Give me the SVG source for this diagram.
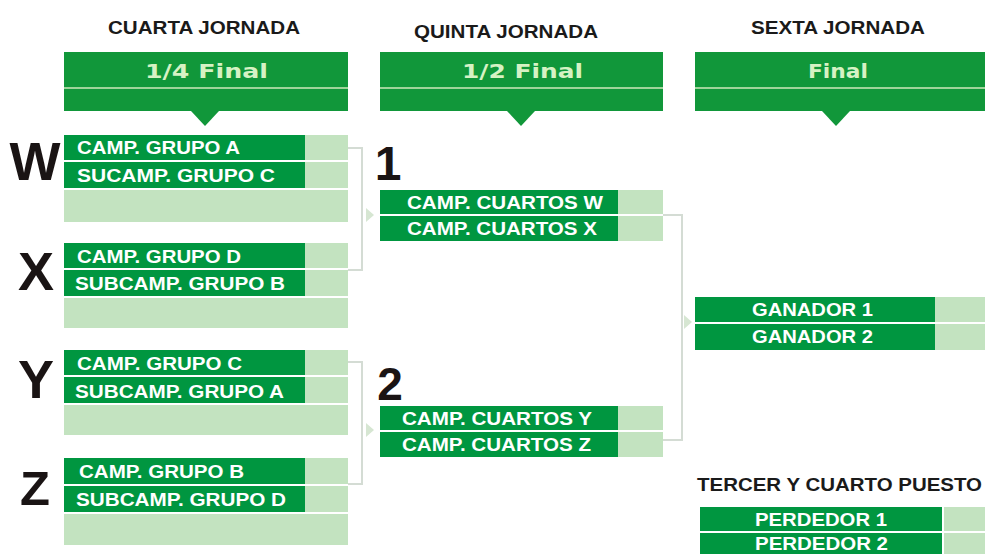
<svg xmlns="http://www.w3.org/2000/svg" width="985" height="554" viewBox="0 0 985 554">
<defs>
<style>
.hd{font-family:"Liberation Sans",Arial,sans-serif;font-weight:bold;font-size:19px;fill:#1a1a1a}
.bt{font-family:"DejaVu Sans",Verdana,sans-serif;font-weight:bold;font-size:19px;fill:#d6f2c4}
.band{fill:#11973a}
.sep{fill:#9fd49a}
.dk{fill:#009640}
.lt{fill:#c3e3c0}
.rt{font-family:"Liberation Sans",Arial,sans-serif;font-weight:bold;font-size:18px;fill:#ffffff}
.rc{font-family:"Liberation Sans",Arial,sans-serif;font-weight:bold;font-size:19px;fill:#ffffff}
.big{font-family:"Liberation Sans",Arial,sans-serif;font-weight:bold;font-size:54px;fill:#1a1414;text-anchor:middle}
.cn{fill:none;stroke:#d4dcd4;stroke-width:2}
.ar{fill:#d6e6d2}
</style>
</defs>

<g id="titles">
<text class="hd" x="108" y="34" textLength="192" lengthAdjust="spacingAndGlyphs">CUARTA JORNADA</text>
<text class="hd" x="414" y="38" textLength="184" lengthAdjust="spacingAndGlyphs">QUINTA JORNADA</text>
<text class="hd" x="751" y="34" textLength="174" lengthAdjust="spacingAndGlyphs">SEXTA JORNADA</text>
</g>

<g id="banner-cuartos">
<rect class="band" x="64" y="52" width="284" height="35"/>
<rect class="sep" x="64" y="87" width="284" height="2"/>
<rect class="band" x="64" y="89" width="284" height="22"/>
<polygon class="band" points="191,111 219,111 205,126"/>
<text class="bt" x="145" y="78" textLength="123" lengthAdjust="spacingAndGlyphs">1/4 Final</text>
</g>
<g id="banner-semis">
<rect class="band" x="380" y="52" width="283" height="35"/>
<rect class="sep" x="380" y="87" width="283" height="2"/>
<rect class="band" x="380" y="89" width="283" height="22"/>
<polygon class="band" points="507,111 535,111 521,126"/>
<text class="bt" x="462" y="78" textLength="121" lengthAdjust="spacingAndGlyphs">1/2 Final</text>
</g>
<g id="banner-final">
<rect class="band" x="695" y="52" width="290" height="35"/>
<rect class="sep" x="695" y="87" width="290" height="2"/>
<rect class="band" x="695" y="89" width="290" height="22"/>
<polygon class="band" points="822,111 850,111 836,126"/>
<text class="bt" x="808" y="78" textLength="60" lengthAdjust="spacingAndGlyphs">Final</text>
</g>

<g id="connectors">
<polyline class="cn" points="348,148 362,148 362,270 348,270"/>
<polygon class="ar" points="366,208 374,215 366,222"/>
<polyline class="cn" points="348,362 362,362 362,484 348,484"/>
<polygon class="ar" points="366,423 374,430 366,437"/>
<polyline class="cn" points="663,215 682,215 682,440 663,440"/>
<polygon class="ar" points="684,315 692,322 684,329"/>
</g>

<g id="W">
<text class="big" x="35" y="180">W</text>
<rect class="dk" x="64" y="135" width="241" height="25"/>
<rect class="dk" x="64" y="162" width="241" height="26"/>
<rect class="lt" x="305" y="135" width="43" height="25"/>
<rect class="lt" x="305" y="162" width="43" height="26"/>
<rect class="lt" x="64" y="190" width="284" height="32"/>
<text class="rt" x="77" y="154" textLength="163" lengthAdjust="spacingAndGlyphs">CAMP. GRUPO A</text>
<text class="rt" x="77" y="182" textLength="198" lengthAdjust="spacingAndGlyphs">SUCAMP. GRUPO C</text>
</g>
<g id="X">
<text class="big" x="36" y="290">X</text>
<rect class="dk" x="64" y="243" width="241" height="25"/>
<rect class="dk" x="64" y="270" width="241" height="26"/>
<rect class="lt" x="305" y="243" width="43" height="25"/>
<rect class="lt" x="305" y="270" width="43" height="26"/>
<rect class="lt" x="64" y="298" width="284" height="30"/>
<text class="rt" x="77" y="263" textLength="164" lengthAdjust="spacingAndGlyphs">CAMP. GRUPO D</text>
<text class="rt" x="75" y="290" textLength="210" lengthAdjust="spacingAndGlyphs">SUBCAMP. GRUPO B</text>
</g>
<g id="Y">
<text class="big" x="36" y="398">Y</text>
<rect class="dk" x="64" y="350" width="241" height="25"/>
<rect class="dk" x="64" y="377" width="241" height="26"/>
<rect class="lt" x="305" y="350" width="43" height="25"/>
<rect class="lt" x="305" y="377" width="43" height="26"/>
<rect class="lt" x="64" y="405" width="284" height="30"/>
<text class="rt" x="77" y="370" textLength="165" lengthAdjust="spacingAndGlyphs">CAMP. GRUPO C</text>
<text class="rt" x="75" y="398" textLength="209" lengthAdjust="spacingAndGlyphs">SUBCAMP. GRUPO A</text>
</g>
<g id="Z">
<text class="big" x="35" y="505" style="font-size:49px">Z</text>
<rect class="dk" x="64" y="458" width="241" height="26"/>
<rect class="dk" x="64" y="486" width="241" height="26"/>
<rect class="lt" x="305" y="458" width="43" height="26"/>
<rect class="lt" x="305" y="486" width="43" height="26"/>
<rect class="lt" x="64" y="514" width="284" height="31"/>
<text class="rt" x="79" y="478" textLength="165" lengthAdjust="spacingAndGlyphs">CAMP. GRUPO B</text>
<text class="rt" x="76" y="506" textLength="210" lengthAdjust="spacingAndGlyphs">SUBCAMP. GRUPO D</text>
</g>

<g id="semi1">
<text class="big" x="388" y="180" style="font-size:48px">1</text>
<rect class="dk" x="380" y="190" width="238" height="24"/>
<rect class="dk" x="380" y="216" width="238" height="25"/>
<rect class="lt" x="618" y="190" width="45" height="24"/>
<rect class="lt" x="618" y="216" width="45" height="25"/>
<text class="rc" x="407" y="209" textLength="196" lengthAdjust="spacingAndGlyphs">CAMP. CUARTOS W</text>
<text class="rc" x="407" y="235" textLength="190" lengthAdjust="spacingAndGlyphs">CAMP. CUARTOS X</text>
</g>
<g id="semi2">
<text class="big" x="390" y="400" style="font-size:46px">2</text>
<rect class="dk" x="380" y="406" width="238" height="24"/>
<rect class="dk" x="380" y="432" width="238" height="25"/>
<rect class="lt" x="618" y="406" width="45" height="24"/>
<rect class="lt" x="618" y="432" width="45" height="25"/>
<text class="rc" x="402" y="425" textLength="190" lengthAdjust="spacingAndGlyphs">CAMP. CUARTOS Y</text>
<text class="rc" x="402" y="451" textLength="189" lengthAdjust="spacingAndGlyphs">CAMP. CUARTOS Z</text>
</g>

<g id="final">
<rect class="dk" x="695" y="297" width="240" height="25"/>
<rect class="dk" x="695" y="324" width="240" height="26"/>
<rect class="lt" x="935" y="297" width="50" height="25"/>
<rect class="lt" x="935" y="324" width="50" height="26"/>
<text class="rc" x="752" y="316" textLength="121" lengthAdjust="spacingAndGlyphs">GANADOR 1</text>
<text class="rc" x="752" y="343" textLength="121" lengthAdjust="spacingAndGlyphs">GANADOR 2</text>
</g>

<g id="tercer">
<text class="hd" x="697" y="491" textLength="285" lengthAdjust="spacingAndGlyphs">TERCER Y CUARTO PUESTO</text>
<rect class="dk" x="700" y="507" width="242" height="24"/>
<rect class="dk" x="700" y="533" width="242" height="21"/>
<rect class="lt" x="944" y="507" width="41" height="24"/>
<rect class="lt" x="944" y="533" width="41" height="21"/>
<text class="rc" x="755" y="526" style="font-size:19px" textLength="132" lengthAdjust="spacingAndGlyphs">PERDEDOR 1</text>
<text class="rc" x="755" y="550" style="font-size:18px" textLength="133" lengthAdjust="spacingAndGlyphs">PERDEDOR 2</text>
</g>
</svg>
